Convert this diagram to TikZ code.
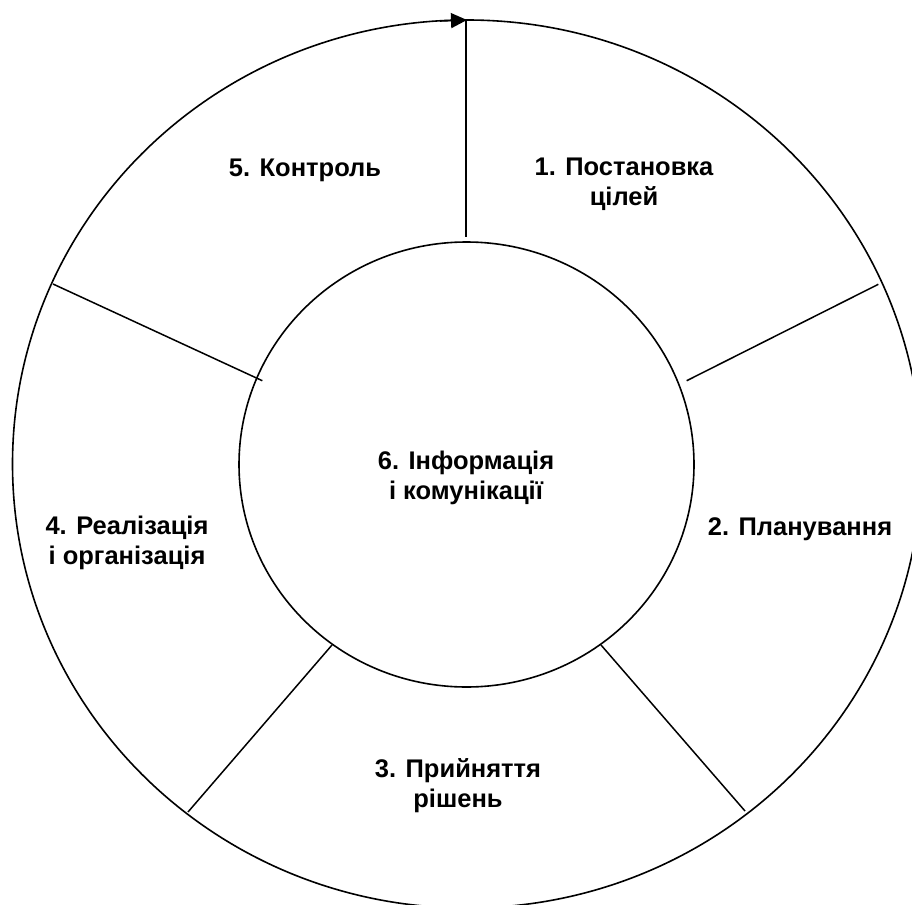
\documentclass[tikz,border=0pt]{standalone}
\usepackage{fontspec}
\setmainfont{Liberation Sans}
\usetikzlibrary{arrows.meta}
\begin{document}
\begin{tikzpicture}[x=1pt,y=-1pt,
  ring/.style={line width=1.6pt},
  divider/.style={line width=1.5pt},
  lbl/.style={font=\bfseries\fontsize{25.5}{30}\selectfont, align=center, inner sep=0pt}]
\useasboundingbox (0,0) rectangle (912,904);
\clip (0,0) rectangle (912,904);
\draw[ring] (467,464) ellipse [x radius=454.5, y radius=444];
\draw[ring] (466.5,464.5) ellipse [x radius=227.5, y radius=222.5];
\coordinate (t1) at (467,20);
\coordinate (t2) at (466,237);
\coordinate (atail) at (440,21);
\coordinate (ur1) at (686.7,380.7);
\coordinate (ur2) at (878.3,284.3);
\coordinate (ul1) at (53,284);
\coordinate (ul2) at (262.3,380.7);
\coordinate (ll1) at (332,645);
\coordinate (ll2) at (188,812);
\coordinate (lr1) at (601,645);
\coordinate (lr2) at (745,811);
\draw[divider] (466,20) -- (t2);
\draw[divider] (ur1) -- (ur2);
\draw[divider] (ul1) -- (ul2);
\draw[divider] (ll1) -- (ll2);
\draw[divider] (lr1) -- (lr2);
\draw[ring, -{Triangle[length=16pt,width=15pt]}] (atail) -- (t1);
\node[lbl] (n5) at (305,170) {5. Контроль};
\node[lbl] (n1) at (624,184) {1. Постановка\\цілей};
\node[lbl] (n6) at (466,478) {6. Інформація\\і комунікації};
\node[lbl] (n4) at (127,543) {4. Реалізація\\і організація};
\node[lbl] (n2) at (800,529) {2. Планування};
\node[lbl] (n3) at (458,786) {3. Прийняття\\рішень};
\end{tikzpicture}
\end{document}
